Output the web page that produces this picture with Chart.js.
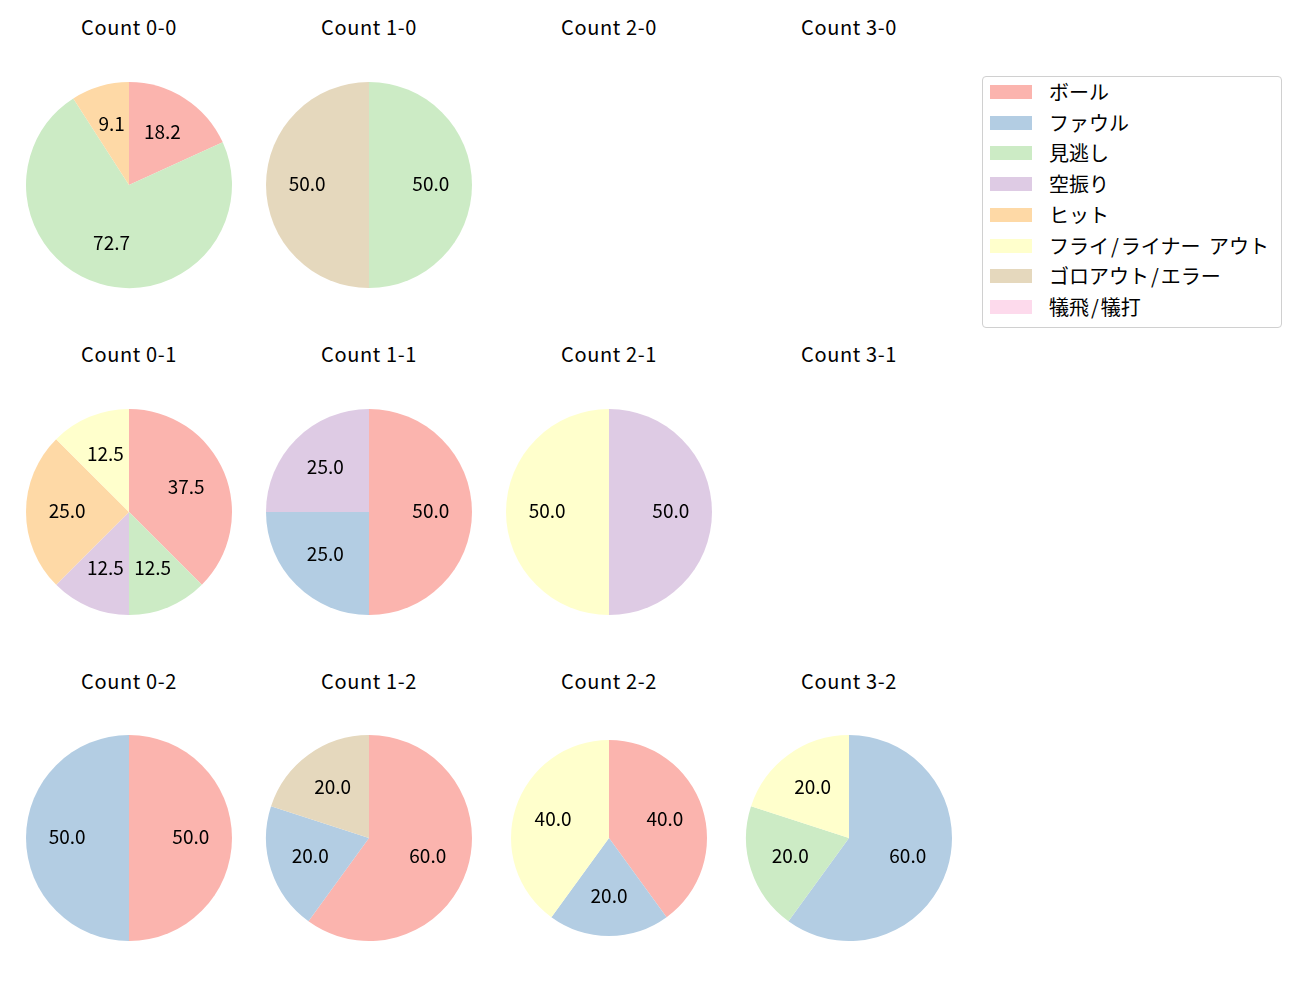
<!DOCTYPE html>
<html>
<head>
<meta charset="utf-8">
<script src="https://cdn.jsdelivr.net/npm/chart.js@4.4.1/dist/chart.umd.min.js"></script>
<style>
  body { margin: 0; background: #fff; font-family: "Noto Sans CJK JP", sans-serif; }
  #page { position: relative; width: 1300px; height: 1000px; }
  .ttl { position: absolute; width: 240px; text-align: center; font-size: 20px; letter-spacing: 0.6px; line-height: 22px; color: #000; }
  canvas { position: absolute; }
  #legend { position: absolute; left: 982px; top: 76px; width: 300px; height: 252px;
            border: 1px solid #d0d0d0; border-radius: 4px; box-sizing: border-box; }
  .row { position: absolute; left: 7px; height: 20px; font-size: 20px; line-height: 20px; }
  .sw { position: absolute; left: 0; top: 3px; width: 42px; height: 14px; }
  .lt { position: absolute; left: 59px; top: 0; white-space: nowrap; }
  .lt .a { padding: 0 2px; }
</style>
</head>
<body>
<div id="page"></div>
<script>
// Categories and colours (legend order)
const categories = ['ボール', 'ファウル', '見逃し', '空振り', 'ヒット', 'フライ/ライナー アウト', 'ゴロアウト/エラー', '犠飛/犠打'];
const colors = ['#fbb4ae', '#b3cde3', '#ccebc5', '#decbe4', '#fed9a6', '#ffffcc', '#e5d8bd', '#fddaec'];

// Percent shares per count, in category order
const count00 = [18.2, 0, 72.7, 0, 9.1, 0, 0, 0];
const count10 = [0, 0, 50.0, 0, 0, 0, 50.0, 0];
const count01 = [37.5, 0, 12.5, 12.5, 25.0, 12.5, 0, 0];
const count11 = [50.0, 25.0, 0, 25.0, 0, 0, 0, 0];
const count21 = [0, 0, 0, 50.0, 0, 50.0, 0, 0];
const count02 = [50.0, 50.0, 0, 0, 0, 0, 0, 0];
const count12 = [60.0, 20.0, 0, 0, 0, 0, 20.0, 0];
const count22 = [40.0, 20.0, 0, 0, 0, 40.0, 0, 0];
const count32 = [0, 60.0, 20.0, 0, 0, 20.0, 0, 0];

const titles = [
    ['Count 0-0', 'Count 1-0', 'Count 2-0', 'Count 3-0'],
    ['Count 0-1', 'Count 1-1', 'Count 2-1', 'Count 3-1'],
    ['Count 0-2', 'Count 1-2', 'Count 2-2', 'Count 3-2']
];
const grid = [
    [count00, count10, null, null],
    [count01, count11, count21, null],
    [count02, count12, count22, count32]
];

const colX = [129, 369, 609, 849];
const rowY = [185, 512, 838];
const titleY = [28, 355, 682];

// Percentage labels at 0.6 of the radius
const pctLabels = {
    id: 'pctLabels',
    afterDatasetsDraw(chart) {
        const ctx = chart.ctx;
        const meta = chart.getDatasetMeta(0);
        const values = chart.data.datasets[0].data;
        ctx.save();
        ctx.font = '19px "Noto Sans CJK JP", sans-serif';
        ctx.fillStyle = '#000';
        ctx.textAlign = 'center';
        ctx.textBaseline = 'middle';
        meta.data.forEach((arc, i) => {
            if (!values[i]) return;
            const mid = (arc.startAngle + arc.endAngle) / 2;
            const r = arc.outerRadius * 0.6;
            ctx.fillText(values[i].toFixed(1), arc.x + Math.cos(mid) * r, arc.y + Math.sin(mid) * r - 1.5);
        });
        ctx.restore();
    }
};

const page = document.getElementById('page');

grid.forEach((row, ri) => {
    row.forEach((values, ci) => {
        const t = document.createElement('div');
        t.className = 'ttl';
        t.textContent = titles[ri][ci];
        t.style.left = (colX[ci] - 120) + 'px';
        t.style.top = (titleY[ri] - 12) + 'px';
        page.appendChild(t);
        if (!values) return;

        const canvas = document.createElement('canvas');
        canvas.width = 240;
        canvas.height = 240;
        canvas.style.left = (colX[ci] - 120) + 'px';
        canvas.style.top = (rowY[ri] - 120) + 'px';
        page.appendChild(canvas);

        const pad = (ri === 2 && ci === 2) ? 22 : 17;
        new Chart(canvas.getContext('2d'), {
            type: 'pie',
            data: {
                labels: categories,
                datasets: [{
                    data: values,
                    backgroundColor: colors,
                    borderWidth: 0
                }]
            },
            options: {
                responsive: false,
                animation: false,
                layout: { padding: pad },
                plugins: {
                    legend: { display: false },
                    tooltip: { enabled: false }
                }
            },
            plugins: [pctLabels]
        });
    });
});

// Legend (slash and space get a little extra room, like the original)
const legend = document.createElement('div');
legend.id = 'legend';
categories.forEach((name, i) => {
    const r = document.createElement('div');
    r.className = 'row';
    r.style.top = (5 + i * 30.7) + 'px';
    r.innerHTML = '<div class="sw" style="background:' + colors[i] + '"></div><div class="lt"></div>';
    const lt = r.querySelector('.lt');
    name.split(/([\/ ])/).forEach(part => {
        const s = document.createElement('span');
        if (part === '/' || part === ' ') s.className = 'a';
        s.textContent = part === ' ' ? '\u00a0' : part;
        lt.appendChild(s);
    });
    legend.appendChild(r);
});
page.appendChild(legend);
</script>
</body>
</html>
